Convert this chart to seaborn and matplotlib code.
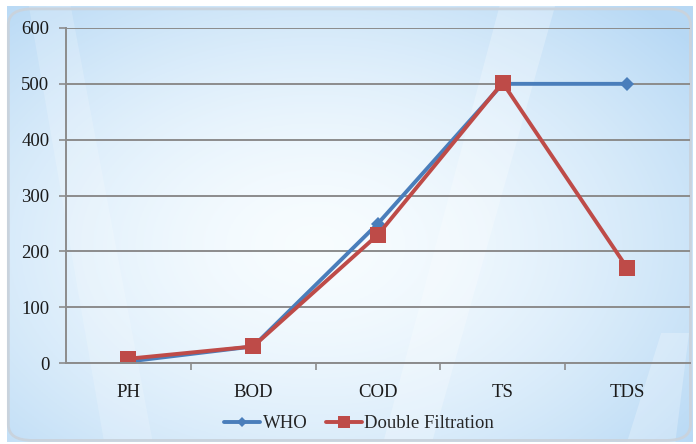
import numpy as np
import pandas as pd
import matplotlib

matplotlib.use("Agg")

import matplotlib.pyplot as plt
from matplotlib.patches import FancyBboxPatch, Polygon
import seaborn as sns

categories = ["PH", "BOD", "COD", "TS", "TDS"]
who_values = [3, 30, 250, 500, 500]
double_filtration_values = [8, 30, 230, 502, 170]
y_ticks = [0, 100, 200, 300, 400, 500, 600]

data = pd.DataFrame({
    "parameter": categories * 2,
    "value": who_values + double_filtration_values,
    "series": ["WHO"] * len(categories) + ["Double Filtration"] * len(categories),
})

sns.set_theme(style="white")
plt.rcParams["font.family"] = ["Liberation Serif", "DejaVu Serif"]

figure = plt.figure(figsize=(6.96, 4.44), dpi=100)

# background: soft blue gradient panel with light streaks
bg = figure.add_axes([0, 0, 1, 1])
bg.set_xlim(0, 1)
bg.set_ylim(0, 1)
bg.axis("off")
yy, xx = np.mgrid[0:1:200j, 0:1:300j]
dist = np.sqrt(((xx - 0.45) / 0.7) ** 2 + ((yy - 0.45) / 0.75) ** 2)
shade = np.clip(dist, 0, 1) ** 1.6
base = np.array([0.97, 0.99, 1.0])
edge = np.array([0.72, 0.85, 0.96])
img = base + (edge - base) * shade[..., None]
bg.imshow(img, extent=[0.01, 0.995, 0.005, 0.985], origin="lower", aspect="auto", zorder=0)
for pts, alpha in [
    ([(0.55, 0.0), (0.62, 0.0), (0.80, 1.0), (0.72, 1.0)], 0.25),
    ([(0.15, 0.0), (0.22, 0.0), (0.10, 1.0), (0.04, 1.0)], 0.18),
    ([(0.90, 0.0), (0.97, 0.0), (0.99, 0.25), (0.95, 0.25)], 0.25),
]:
    bg.add_patch(Polygon(pts, closed=True, color="white", alpha=alpha, lw=0, zorder=1))
bg.add_patch(FancyBboxPatch((0.012, 0.008), 0.98, 0.972,
                            boxstyle="round,pad=0,rounding_size=0.035",
                            facecolor="none", edgecolor="#c9d3dd", linewidth=2, zorder=2))

axis = figure.add_axes([0.095, 0.182, 0.896, 0.755])
axis.set_facecolor("none")

palette = {"WHO": "#4a7ebb", "Double Filtration": "#be4b48"}
markers = {"WHO": "D", "Double Filtration": "s"}
sizes = {"WHO": 7, "Double Filtration": 11}
for name in ["WHO", "Double Filtration"]:
    sns.lineplot(
        data=data[data["series"] == name],
        x="parameter",
        y="value",
        color=palette[name],
        marker=markers[name],
        markersize=sizes[name],
        markeredgewidth=0,
        linewidth=2.8,
        label=name,
        sort=False,
        ax=axis,
    )

axis.set_xlim(-0.5, len(categories) - 0.5)
axis.set_ylim(0, 600)
axis.set_yticks(y_ticks)
axis.set_xticks(range(len(categories)))
axis.set_xticklabels(categories)
axis.set_xticks(np.arange(0.5, len(categories) - 0.5, 1), minor=True)
axis.set_xlabel("")
axis.set_ylabel("")

axis.yaxis.grid(True, color="#8c8c8c", linewidth=1.4)
axis.set_axisbelow(True)
for side in ["top", "right"]:
    axis.spines[side].set_visible(False)
for side in ["left", "bottom"]:
    axis.spines[side].set_color("#8c8c8c")
    axis.spines[side].set_linewidth(1.4)

axis.tick_params(axis="y", which="major", left=True, length=5, width=1.2, color="#8c8c8c",
                 labelsize=13.5, labelcolor="#1a1a1a", pad=7)
axis.tick_params(axis="x", which="major", bottom=False, labelsize=13.5, labelcolor="#1a1a1a", pad=9)
axis.tick_params(axis="x", which="minor", bottom=True, length=5, width=1.2, color="#8c8c8c")

axis.legend(loc="upper center", bbox_to_anchor=(0.47, -0.105), ncol=2, frameon=False,
            fontsize=13.5, handlelength=1.9, handletextpad=0.15, columnspacing=1.0,
            markerscale=0.8)

figure.savefig("out.png", dpi=100)
plt.close(figure)
